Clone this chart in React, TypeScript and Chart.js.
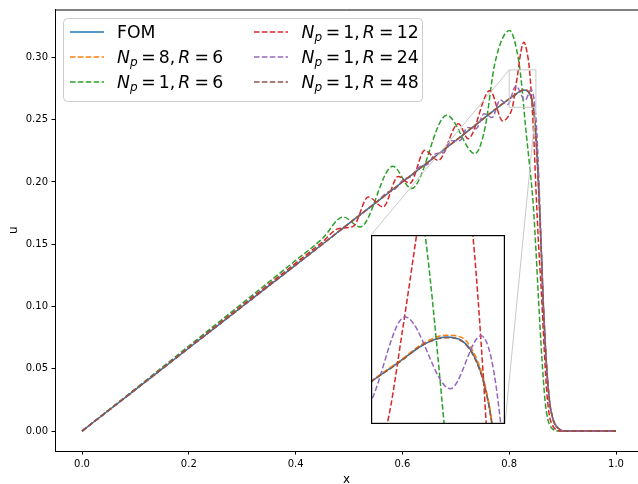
import React, { useEffect, useRef } from "react";
import { Chart, registerables } from "chart.js";

Chart.register(...registerables);

// ---------- data ----------
const fomX = [0, 0.1, 0.2, 0.3, 0.4, 0.5, 0.6, 0.7, 0.8, 0.81, 0.82, 0.828, 0.834, 0.838, 0.842, 0.845, 0.848, 0.852, 0.856, 0.86, 0.864, 0.868, 0.872, 0.876, 0.88, 0.884, 0.89, 0.896, 0.902, 1.0];
const fomU = [0, 0.0333, 0.0667, 0.1, 0.1333, 0.1667, 0.2, 0.2333, 0.2667, 0.2697, 0.2727, 0.2738, 0.2732, 0.2712, 0.2668, 0.2605, 0.249, 0.222, 0.187, 0.145, 0.1, 0.066, 0.04, 0.022, 0.013, 0.007, 0.003, 0.001, 0, 0];

const np8r6X = [0, 0.1, 0.2, 0.3, 0.4, 0.5, 0.6, 0.7, 0.8, 0.81, 0.82, 0.828, 0.834, 0.838, 0.842, 0.845, 0.848, 0.852, 0.856, 0.86, 0.864, 0.868, 0.872, 0.876, 0.88, 0.884, 0.89, 0.896, 0.902, 1.0];
const np8r6U = [0, 0.0333, 0.0667, 0.1, 0.1333, 0.1667, 0.2, 0.2334, 0.2668, 0.2698, 0.2729, 0.2741, 0.2737, 0.2716, 0.2671, 0.2607, 0.2492, 0.2222, 0.1872, 0.1452, 0.1002, 0.0661, 0.0401, 0.0221, 0.013, 0.007, 0.003, 0.001, 0, 0];

const np1r6X = [0, 0.1, 0.2, 0.3, 0.4, 0.45, 0.489, 0.521, 0.582, 0.617, 0.683, 0.736, 0.755, 0.773, 0.801, 0.812, 0.8202, 0.8273, 0.83, 0.838, 0.845, 0.85, 0.855, 0.861, 0.867, 0.872, 0.877, 0.882, 0.888, 1.0];
const np1r6U = [0, 0.034, 0.0683, 0.1025, 0.137, 0.1545, 0.1719, 0.1639, 0.2126, 0.1947, 0.2535, 0.2227, 0.244, 0.295, 0.3216, 0.31, 0.29, 0.26, 0.247, 0.214, 0.182, 0.146, 0.105, 0.06, 0.025, 0.01, 0.004, 0.0015, 0, 0];

const np1r12X = [0, 0.1, 0.2, 0.3, 0.4, 0.45, 0.48, 0.508, 0.536, 0.564, 0.592, 0.614, 0.642, 0.667, 0.705, 0.723, 0.764, 0.788, 0.798, 0.806, 0.8118, 0.817, 0.822, 0.8275, 0.833, 0.838, 0.843, 0.8465, 0.85, 0.855, 0.861, 0.866, 0.871, 0.876, 0.882, 0.888, 0.895, 1.0];
const np1r12U = [0, 0.0335, 0.0672, 0.101, 0.1348, 0.1518, 0.1625, 0.1644, 0.188, 0.18, 0.2045, 0.199, 0.2254, 0.2174, 0.2468, 0.2348, 0.2735, 0.249, 0.2525, 0.26, 0.275, 0.29, 0.305, 0.3123, 0.305, 0.29, 0.26, 0.232, 0.195, 0.15, 0.105, 0.062, 0.028, 0.011, 0.004, 0.001, 0, 0];

const np1r24X = [0, 0.1, 0.2, 0.3, 0.4, 0.5, 0.55, 0.572, 0.587, 0.602, 0.617, 0.632, 0.647, 0.662, 0.677, 0.692, 0.707, 0.722, 0.738, 0.753, 0.768, 0.783, 0.797, 0.8127, 0.8296, 0.8411, 0.8484, 0.852, 0.856, 0.86, 0.864, 0.868, 0.872, 0.876, 0.88, 0.884, 0.89, 0.896, 0.902, 1.0];
const np1r24U = [0, 0.0333, 0.0667, 0.1, 0.1333, 0.1667, 0.1833, 0.1917, 0.1947, 0.202, 0.2044, 0.2122, 0.2141, 0.2226, 0.2237, 0.2332, 0.2332, 0.2437, 0.2428, 0.2548, 0.2518, 0.2658, 0.2622, 0.277, 0.2656, 0.274, 0.26, 0.238, 0.198, 0.15, 0.103, 0.068, 0.041, 0.023, 0.013, 0.007, 0.003, 0.001, 0, 0];

const np1r48X = [0, 0.1, 0.2, 0.3, 0.4, 0.5, 0.6, 0.7, 0.8, 0.81, 0.82, 0.828, 0.834, 0.838, 0.842, 0.845, 0.848, 0.852, 0.856, 0.86, 0.864, 0.868, 0.872, 0.876, 0.88, 0.884, 0.89, 0.896, 0.902, 1.0];
const np1r48U = [0, 0.0333, 0.0667, 0.1, 0.1333, 0.1667, 0.2, 0.2333, 0.2667, 0.2696, 0.2727, 0.2737, 0.2731, 0.271, 0.2666, 0.2603, 0.2489, 0.2219, 0.1869, 0.1449, 0.1, 0.066, 0.04, 0.022, 0.013, 0.007, 0.003, 0.001, 0, 0];

const xTicks = [0, 0.2, 0.4, 0.6, 0.8, 1.0];
const yTicks = [0, 0.05, 0.1, 0.15, 0.2, 0.25, 0.3];

const X_RANGE = [-0.0506, 1.0412];
const Y_RANGE = [-0.016, 0.3385];
const ZOOM_X = [0.8, 0.85];
const ZOOM_Y = [0.26, 0.29];

const seriesNp = [null, 8, 1, 1, 1, 1];
const seriesR = [null, 6, 6, 12, 24, 48];
const seriesLabels = ["FOM", "N_p=8, R=6", "N_p=1, R=6", "N_p=1, R=12", "N_p=1, R=24", "N_p=1, R=48"];
const seriesColors = ["#1f77b4", "#ff7f0e", "#2ca02c", "#d62728", "#9467bd", "#8c564b"];
const seriesXs = [fomX, np8r6X, np1r6X, np1r12X, np1r24X, np1r48X];
const seriesUs = [fomU, np8r6U, np1r6U, np1r12U, np1r24U, np1r48U];

// ---------- layout ----------
const W = 638;
const H = 484;
const INSET = { left: 371, top: 235, width: 134, height: 189 };
const FONT = "'DejaVu Sans'";
const DASH = [5.5, 2.4];

function makeDatasets() {
  return seriesLabels.map((label, i) => ({
    label,
    data: seriesXs[i].map((x, j) => ({ x, y: seriesUs[i][j] })),
    borderColor: seriesColors[i],
    backgroundColor: seriesColors[i],
    borderWidth: 1.5,
    borderDash: i === 0 ? [] : DASH,
    pointRadius: 0,
    pointHoverRadius: 0,
    fill: false,
    cubicInterpolationMode: "monotone" as const,
    capBezierPoints: false,
    order: seriesLabels.length - i,
  }));
}

function drawMathLabel(ctx: CanvasRenderingContext2D, x: number, yBase: number, np: number, r: number) {
  const fs = 17.28;
  const italic = `italic ${fs}px ${FONT}`;
  const upright = `${fs}px ${FONT}`;
  const sub = `italic ${fs * 0.7}px ${FONT}`;
  let cx = x;
  const put = (t: string, font: string, dy = 0) => {
    ctx.font = font;
    ctx.fillText(t, cx, yBase + dy);
    cx += ctx.measureText(t).width;
  };
  put("N", italic);
  put("p", sub, 2.5);
  cx += 3.6;
  put("=", upright);
  cx += 3.2;
  put(String(np), upright);
  put(",", upright);
  cx += 3.0;
  put("R", italic);
  cx += 4.2;
  put("=", upright);
  cx += 3.2;
  put(String(r), upright);
}

const mainDecor = {
  id: "mainDecor",
  afterDatasetsDraw(chart: any) {
    const { ctx, chartArea, scales } = chart;
    const xs = scales.x;
    const ys = scales.y;
    ctx.save();
    // top spine
    ctx.strokeStyle = "#000";
    ctx.lineWidth = 1;
    ctx.beginPath();
    ctx.moveTo(chartArea.left, chartArea.top + 0.5);
    ctx.lineTo(chartArea.right, chartArea.top + 0.5);
    ctx.stroke();
    // zoom rectangle
    const rx0 = xs.getPixelForValue(ZOOM_X[0]);
    const rx1 = xs.getPixelForValue(ZOOM_X[1]);
    const ry0 = ys.getPixelForValue(ZOOM_Y[1]);
    const ry1 = ys.getPixelForValue(ZOOM_Y[0]);
    ctx.strokeStyle = "#c8c8c8";
    ctx.lineWidth = 1;
    ctx.strokeRect(rx0, ry0, rx1 - rx0, ry1 - ry0);
    // connectors
    ctx.beginPath();
    ctx.moveTo(rx0, ry0);
    ctx.lineTo(INSET.left, INSET.top);
    ctx.moveTo(rx1, ry1);
    ctx.lineTo(INSET.left + INSET.width, INSET.top + INSET.height);
    ctx.stroke();
    ctx.restore();
  },
  afterDraw(chart: any) {
    const { ctx } = chart;
    ctx.save();
    // legend frame
    const lx = 63.5, ly = 18.5, lw = 359, lh = 83, rr = 4;
    ctx.beginPath();
    ctx.moveTo(lx + rr, ly);
    ctx.lineTo(lx + lw - rr, ly);
    ctx.quadraticCurveTo(lx + lw, ly, lx + lw, ly + rr);
    ctx.lineTo(lx + lw, ly + lh - rr);
    ctx.quadraticCurveTo(lx + lw, ly + lh, lx + lw - rr, ly + lh);
    ctx.lineTo(lx + rr, ly + lh);
    ctx.quadraticCurveTo(lx, ly + lh, lx, ly + lh - rr);
    ctx.lineTo(lx, ly + rr);
    ctx.quadraticCurveTo(lx, ly, lx + rr, ly);
    ctx.closePath();
    ctx.fillStyle = "rgba(255,255,255,0.8)";
    ctx.fill();
    ctx.strokeStyle = "#cccccc";
    ctx.lineWidth = 1;
    ctx.stroke();

    const rowY = [32, 57, 82];
    const handleX = [70, 254];
    const textX = [117, 301.5];
    const handleLen = 34;
    seriesLabels.forEach((label, i) => {
      const col = i < 3 ? 0 : 1;
      const row = i % 3;
      const cy = rowY[row];
      ctx.strokeStyle = seriesColors[i];
      ctx.lineWidth = 1.5;
      ctx.setLineDash(i === 0 ? [] : DASH);
      ctx.beginPath();
      ctx.moveTo(handleX[col], cy);
      ctx.lineTo(handleX[col] + handleLen, cy);
      ctx.stroke();
      ctx.setLineDash([]);
      ctx.fillStyle = "#000";
      ctx.textBaseline = "alphabetic";
      ctx.textAlign = "left";
      if (seriesNp[i] === null) {
        ctx.font = `17.28px ${FONT}`;
        ctx.fillText(label, textX[col], cy + 6);
      } else {
        drawMathLabel(ctx, textX[col], cy + 6, seriesNp[i] as number, seriesR[i] as number);
      }
    });
    ctx.restore();
  },
};

const insetDecor = {
  id: "insetDecor",
  beforeDraw(chart: any) {
    const { ctx, width, height } = chart;
    ctx.save();
    ctx.fillStyle = "#fff";
    ctx.fillRect(0, 0, width, height);
    ctx.restore();
  },
  afterDraw(chart: any) {
    const { ctx, width, height } = chart;
    ctx.save();
    ctx.strokeStyle = "#000";
    ctx.lineWidth = 1.2;
    ctx.strokeRect(0.6, 0.6, width - 1.2, height - 1.2);
    ctx.restore();
  },
};

export default function App() {
  const mainRef = useRef<HTMLCanvasElement>(null);
  const insetRef = useRef<HTMLCanvasElement>(null);

  useEffect(() => {
    if (!mainRef.current || !insetRef.current) return;
    const tickFont = { family: FONT, size: 10 };
    const main = new Chart(mainRef.current, {
      type: "line",
      data: { datasets: makeDatasets() as any },
      options: {
        animation: false,
        responsive: false,
        devicePixelRatio: 1,
        events: [],
        layout: { padding: { top: 9, left: 0, right: 0, bottom: 0 } },
        plugins: { legend: { display: false }, tooltip: { enabled: false } },
        scales: {
          x: {
            type: "linear",
            min: X_RANGE[0],
            max: X_RANGE[1],
            afterBuildTicks: (s: any) => {
              s.ticks = xTicks.map((v) => ({ value: v }));
            },
            afterFit: (s: any) => {
              s.height = 33;
            },
            ticks: {
              callback: (v: any) => Number(v).toFixed(1),
              font: tickFont,
              color: "#000",
              padding: 3.5,
              maxRotation: 0,
              autoSkip: false,
            },
            grid: { display: true, drawOnChartArea: false, drawTicks: true, tickLength: 3.5, color: "#000", lineWidth: 1 },
            border: { display: true, color: "#000", width: 1 },
            title: { display: true, text: "x", font: { family: FONT, size: 12 }, color: "#000", padding: { top: 0, bottom: -3 } },
          },
          y: {
            type: "linear",
            min: Y_RANGE[0],
            max: Y_RANGE[1],
            afterBuildTicks: (s: any) => {
              s.ticks = yTicks.map((v) => ({ value: v }));
            },
            afterFit: (s: any) => {
              s.width = 55;
            },
            ticks: {
              callback: (v: any) => Number(v).toFixed(2),
              font: tickFont,
              color: "#000",
              padding: 3.5,
              autoSkip: false,
            },
            grid: { display: true, drawOnChartArea: false, drawTicks: true, tickLength: 3.5, color: "#000", lineWidth: 1 },
            border: { display: true, color: "#000", width: 1 },
            title: { display: true, text: "u", font: { family: FONT, size: 12 }, color: "#000", padding: { top: 6.5, bottom: 0 } },
          },
        },
      },
      plugins: [mainDecor],
    });

    const inset = new Chart(insetRef.current, {
      type: "line",
      data: { datasets: makeDatasets() as any },
      options: {
        animation: false,
        responsive: false,
        devicePixelRatio: 1,
        events: [],
        layout: { padding: 0 },
        plugins: { legend: { display: false }, tooltip: { enabled: false } },
        scales: {
          x: { type: "linear", min: ZOOM_X[0], max: ZOOM_X[1], display: false },
          y: { type: "linear", min: ZOOM_Y[0], max: ZOOM_Y[1], display: false },
        },
      },
      plugins: [insetDecor],
    });

    return () => {
      main.destroy();
      inset.destroy();
    };
  }, []);

  return (
    <div style={{ position: "fixed", left: 0, top: 0, width: W, height: H, background: "#fff", overflow: "hidden" }}>
      <canvas ref={mainRef} width={W} height={H} style={{ position: "absolute", left: 0, top: 0, width: W, height: H }} />
      <canvas
        ref={insetRef}
        width={INSET.width}
        height={INSET.height}
        style={{ position: "absolute", left: INSET.left, top: INSET.top, width: INSET.width, height: INSET.height }}
      />
    </div>
  );
}
